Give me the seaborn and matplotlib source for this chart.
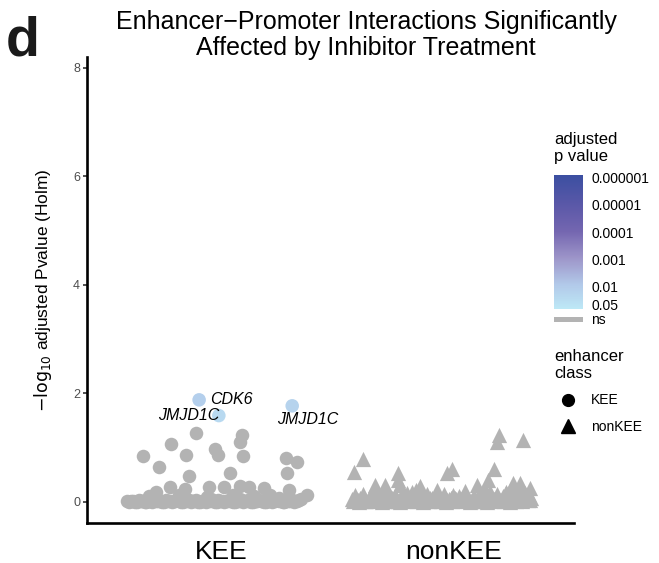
import numpy as np
import pandas as pd
import matplotlib
matplotlib.use("Agg")
import matplotlib.pyplot as plt
import seaborn as sns
from matplotlib.colors import LinearSegmentedColormap, Normalize
from matplotlib.cm import ScalarMappable
from matplotlib.patches import Rectangle

# ---------------- data ----------------
categories = ["KEE", "nonKEE"]

# significant interactions (KEE)
sig_offset = [-0.095, -0.010, 0.306]
sig_y = [1.88, 1.59, 1.77]
sig_padj = [0.013, 0.026, 0.017]
sig_gene = ["CDK6", "JMJD1C", "JMJD1C"]

# non-significant KEE (jitter offset from category centre, -log10 p)
kee_offset = [-0.108, 0.090, 0.082, -0.216, -0.336, -0.150, -0.026, -0.013, 0.095, 0.280,
              0.327, -0.267, 0.039, 0.284, -0.138,
              -0.280, -0.220, -0.155, -0.052, 0.013, 0.082, 0.120, 0.185, 0.293, 0.370, 0.345,
              -0.310, -0.180, -0.060, 0.050, 0.140, 0.210, 0.250,
              -0.405, -0.390, -0.372, -0.355, -0.340, -0.322, -0.305, -0.290, -0.270, -0.255,
              -0.238, -0.220, -0.205, -0.190, -0.172, -0.158, -0.140, -0.125, -0.108, -0.090,
              -0.075, -0.060, -0.042, -0.028, -0.012, 0.005, 0.020, 0.035, 0.052, 0.068,
              0.083, 0.100, 0.115, 0.130, 0.148, 0.162, 0.178, 0.195, 0.210, 0.225,
              0.242, 0.258, 0.272, 0.290, 0.305, 0.320, 0.335,
              -0.398, -0.380, -0.363, -0.347, -0.330, -0.313, -0.297, -0.280, -0.262, -0.246,
              -0.229, -0.212, -0.197, -0.180, -0.165, -0.149, -0.132, -0.116, -0.099, -0.083,
              -0.067, -0.050, -0.035, -0.020, -0.004, 0.012, 0.028, 0.044, 0.060, 0.076,
              0.092, 0.108, 0.122, 0.139, 0.155, 0.170, 0.186, 0.202, 0.218, 0.234,
              0.250, 0.265, 0.281, 0.297, 0.312, 0.328]
kee_y = [1.27, 1.23, 1.11, 1.07, 0.85, 0.87, 0.98, 0.87, 0.85, 0.81,
         0.74, 0.65, 0.53, 0.53, 0.48,
         0.18, 0.28, 0.24, 0.28, 0.28, 0.30, 0.28, 0.26, 0.22, 0.13, 0.06,
         0.10, 0.12, 0.09, 0.13, 0.10, 0.12, 0.08,
         0.01, 0.02, 0.00, 0.03, 0.01, 0.00, 0.02, 0.04, 0.01, 0.00,
         0.03, 0.02, 0.01, 0.05, 0.00, 0.02, 0.03, 0.01, 0.04, 0.00,
         0.02, 0.01, 0.06, 0.00, 0.03, 0.02, 0.01, 0.04, 0.00, 0.02,
         0.05, 0.01, 0.03, 0.00, 0.02, 0.04, 0.01, 0.00, 0.03, 0.02,
         0.06, 0.01, 0.00, 0.02, 0.04, 0.01, 0.03,
         0.00, 0.01, 0.00, 0.02, 0.00, 0.01, 0.00, 0.01, 0.02, 0.00,
         0.01, 0.00, 0.02, 0.01, 0.00, 0.01, 0.00, 0.02, 0.00, 0.01,
         0.00, 0.02, 0.01, 0.00, 0.01, 0.00, 0.02, 0.01, 0.00, 0.01,
         0.00, 0.02, 0.01, 0.00, 0.01, 0.02, 0.00, 0.01, 0.00, 0.02,
         0.01, 0.00, 0.01, 0.02, 0.00, 0.01]

# non-significant nonKEE
nonkee_offset = [0.198, 0.302, 0.190, -0.388, -0.427, -0.237, -0.004, -0.026, 0.177, 0.151,
                 -0.336, -0.293, -0.228, -0.142, 0.103, 0.259, 0.289, -0.237, 0.050, 0.330, -0.070,
                 -0.435, -0.425, -0.410, -0.400, -0.388, -0.375, -0.360, -0.350, -0.338, -0.325,
                 -0.310, -0.300, -0.287, -0.275, -0.262, -0.250, -0.238, -0.225, -0.212, -0.200,
                 -0.188, -0.175, -0.162, -0.150, -0.138, -0.125, -0.112, -0.100, -0.088, -0.075,
                 -0.062, -0.050, -0.038, -0.025, -0.012, 0.000, 0.012, 0.025, 0.038, 0.050,
                 0.062, 0.075, 0.088, 0.100, 0.112, 0.125, 0.138, 0.150, 0.162, 0.175,
                 0.188, 0.200, 0.212, 0.225, 0.238, 0.250, 0.262, 0.275, 0.288, 0.300,
                 0.312, 0.325, 0.333,
                 -0.430, -0.405, -0.380, -0.355, -0.330, -0.305, -0.280, -0.255, -0.230, -0.205,
                 -0.180, -0.155, -0.130, -0.105, -0.080, -0.055, -0.030, -0.005, 0.020, 0.045,
                 0.070, 0.095, 0.120, 0.145, 0.170, 0.195, 0.220, 0.245, 0.270, 0.295, 0.320,
                 -0.418, -0.393, -0.368, -0.343, -0.318, -0.293, -0.268, -0.243, -0.218, -0.193,
                 -0.168, -0.143, -0.118, -0.093, -0.068, -0.043, -0.018, 0.007, 0.032, 0.057,
                 0.082, 0.107, 0.132, 0.157, 0.182, 0.207, 0.232, 0.257, 0.282, 0.307, 0.331,
                 0.225, 0.245, 0.265, 0.285, 0.310, 0.138, 0.160, -0.180, -0.160, -0.330]
nonkee_y = [1.23, 1.14, 1.10, 0.79, 0.55, 0.53, 0.60, 0.53, 0.60, 0.40,
            0.31, 0.31, 0.31, 0.30, 0.31, 0.35, 0.35, 0.40, 0.20, 0.25, 0.22,
            0.05, 0.12, 0.03, 0.08, 0.15, 0.02, 0.10, 0.06, 0.14, 0.04,
            0.09, 0.17, 0.03, 0.11, 0.07, 0.13, 0.02, 0.10, 0.05, 0.16,
            0.08, 0.03, 0.12, 0.06, 0.10, 0.04, 0.14, 0.07, 0.02, 0.11,
            0.09, 0.05, 0.15, 0.03, 0.08, 0.12, 0.06, 0.10, 0.04, 0.13,
            0.07, 0.02, 0.11, 0.05, 0.09, 0.16, 0.03, 0.12, 0.08, 0.06,
            0.14, 0.04, 0.10, 0.18, 0.07, 0.12, 0.03, 0.15, 0.09, 0.20,
            0.05, 0.13, 0.08,
            0.01, 0.00, 0.02, 0.01, 0.03, 0.00, 0.02, 0.01, 0.00, 0.03,
            0.02, 0.01, 0.00, 0.02, 0.03, 0.01, 0.00, 0.02, 0.01, 0.03,
            0.00, 0.02, 0.01, 0.00, 0.03, 0.02, 0.01, 0.00, 0.02, 0.01, 0.03,
            0.05, 0.07, 0.04, 0.06, 0.08, 0.05, 0.07, 0.04, 0.06, 0.05,
            0.08, 0.04, 0.06, 0.07, 0.05, 0.04, 0.06, 0.08, 0.05, 0.07,
            0.04, 0.06, 0.05, 0.08, 0.07, 0.04, 0.06, 0.05, 0.07, 0.06, 0.04,
            0.17, 0.22, 0.15, 0.19, 0.16, 0.21, 0.18, 0.19, 0.21, 0.17]

yticks = [0, 2, 4, 6, 8]
cbar_labels = ["0.000001", "0.00001", "0.0001", "0.001", "0.01", "0.05"]
cbar_pvals = [1e-6, 1e-5, 1e-4, 1e-3, 1e-2, 0.05]

assert len(kee_offset) == len(kee_y)
assert len(nonkee_offset) == len(nonkee_y)

# ---------------- frame ----------------
ns_df = pd.DataFrame({
    "x": [categories.index("KEE") + o for o in kee_offset]
         + [categories.index("nonKEE") + o for o in nonkee_offset],
    "y": kee_y + nonkee_y,
    "cls": ["KEE"] * len(kee_y) + ["nonKEE"] * len(nonkee_y),
})
sig_df = pd.DataFrame({
    "x": [categories.index("KEE") + o for o in sig_offset],
    "y": sig_y,
    "logp": -np.log10(sig_padj),
    "gene": sig_gene,
})

sns.set_style("white")
plt.rcParams["font.family"] = ["Liberation Sans", "DejaVu Sans"]
plt.rcParams["text.color"] = "black"
plt.rcParams["axes.labelcolor"] = "black"

W, H = 659, 563
fig = plt.figure(figsize=(W / 100, H / 100), dpi=100)

def fx(px):
    return px / W

def fy(py):
    return 1 - py / H

ax = fig.add_axes([fx(87), fy(523), fx(574) - fx(87), fy(57) - fy(523)])

GREY = "#b3b3b3"
cmap = LinearSegmentedColormap.from_list(
    "padj",
    [(0.0, "#bde8f6"), (0.18, "#b2c9e9"), (0.38, "#9d95c9"),
     (0.58, "#7466b0"), (0.78, "#5a58a8"), (1.0, "#3b4fa1")])
norm = Normalize(vmin=1.15, vmax=6.11)

sns.scatterplot(data=ns_df[ns_df.cls == "KEE"], x="x", y="y", color=GREY,
                marker="o", s=95, linewidth=0, ax=ax, legend=False, zorder=2)
sns.scatterplot(data=ns_df[ns_df.cls == "nonKEE"], x="x", y="y", color=GREY,
                marker="^", s=120, linewidth=0, ax=ax, legend=False, zorder=2)
sns.scatterplot(data=sig_df, x="x", y="y", hue="logp", palette=cmap, hue_norm=norm,
                marker="o", s=95, linewidth=0, ax=ax, legend=False, zorder=3)

# gene labels
label_offsets = [(8, 0, "left"), (-22, 0, "center"), (11, -10, "center")]
for (_, r), (dx, dy, ha) in zip(sig_df.iterrows(), label_offsets):
    ax.annotate(r["gene"], (r["x"], r["y"]), xytext=(dx, dy), textcoords="offset points",
                ha=ha, va="center", fontsize=11.5, style="italic", color="black", zorder=4)

ax.set_xlim(-0.578, 1.52)
ax.set_ylim(-0.39, 8.2)
ax.set_xticks(range(len(categories)))
ax.set_xticklabels(categories, fontsize=19, color="black")
ax.set_yticks(yticks)
ax.set_yticklabels([str(t) for t in yticks], fontsize=9, color="#4d4d4d")
ax.tick_params(axis="y", length=3, width=1.2, color="#333333", pad=2, left=True)
ax.tick_params(axis="x", length=0, pad=12)
ax.set_xlabel("")
ax.set_ylabel(r"$-\mathrm{log}_{10}$ adjusted Pvalue (Holm)", fontsize=12.5, labelpad=14,
              color="black")
for side in ["top", "right"]:
    ax.spines[side].set_visible(False)
for side in ["left", "bottom"]:
    ax.spines[side].set_linewidth(1.9)
    ax.spines[side].set_color("black")

# title and panel letter
fig.text(fx(366), fy(35), "Enhancer\u2212Promoter Interactions Significantly\nAffected by Inhibitor Treatment",
         ha="center", va="center", fontsize=18, linespacing=1.15, color="black")
fig.text(fx(23), fy(41), "d", ha="center", va="center", fontsize=40, fontweight="bold",
         color="#1a1a1a")

# colour bar legend
cax = fig.add_axes([fx(554), fy(309), fx(583) - fx(554), fy(175) - fy(309)])
sm = ScalarMappable(norm=norm, cmap=cmap)
cb = fig.colorbar(sm, cax=cax, ticks=[-np.log10(p) for p in cbar_pvals])
cb.outline.set_visible(False)
cax.set_yticklabels(cbar_labels)
cax.tick_params(axis="y", direction="in", color="white", length=4, width=0.9,
                left=True, right=True, labelsize=10, pad=6, labelcolor="black")

ov = fig.add_axes([0, 0, 1, 1], zorder=5)
ov.set_xlim(0, W)
ov.set_ylim(H, 0)
ov.axis("off")
ov.patch.set_alpha(0)
ov.text(554, 148, "adjusted\np value", ha="left", va="center", fontsize=12, linespacing=1.15)
ov.add_patch(Rectangle((554, 317), 29, 5, color=GREY, lw=0))
ov.text(591, 320, "ns", ha="left", va="center", fontsize=10)
ov.text(554, 365, "enhancer\nclass", ha="left", va="center", fontsize=12, linespacing=1.15)
ov.plot([568], [400], marker="o", color="black", markersize=8.5, linestyle="none")
ov.plot([568], [426], marker="^", color="black", markersize=9.5, linestyle="none")
ov.text(591, 400, "KEE", ha="left", va="center", fontsize=10)
ov.text(591, 427, "nonKEE", ha="left", va="center", fontsize=10)

fig.savefig("out.png", dpi=100)
